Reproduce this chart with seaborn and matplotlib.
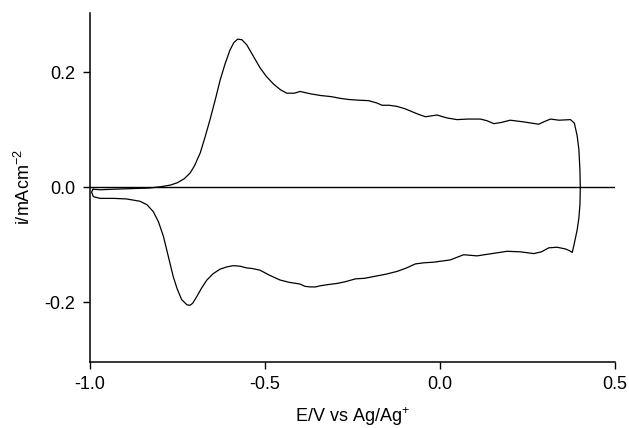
import numpy as np
import pandas as pd
import seaborn as sns
import matplotlib.pyplot as plt

sns.set_theme(style='ticks')
plt.rcParams['font.family'] = ['Liberation Sans', 'DejaVu Sans']
plt.rcParams['mathtext.default'] = 'regular'

# anodic sweep (-1.0 V -> 0.4 V)
e_fwd = [-0.99, -0.97, -0.93, -0.875, -0.83, -0.80, -0.77, -0.75, -0.73, -0.713,
         -0.70, -0.684, -0.67, -0.656, -0.64, -0.627, -0.613, -0.599, -0.588, -0.577,
         -0.565, -0.551, -0.53, -0.513, -0.495, -0.475, -0.455, -0.437, -0.415, -0.399,
         -0.37, -0.341, -0.31, -0.284, -0.26, -0.237, -0.203, -0.18, -0.165, -0.145,
         -0.122, -0.10, -0.084, -0.06, -0.041, -0.02, -0.008, 0.02, 0.049, 0.08,
         0.116, 0.135, 0.154, 0.175, 0.201, 0.24, 0.282, 0.30, 0.316, 0.34,
         0.373, 0.384, 0.392, 0.397, 0.400, 0.401]
i_fwd = [-0.003, -0.004, -0.003, -0.002, -0.001, 0.001, 0.004, 0.008, 0.015, 0.025,
         0.038, 0.060, 0.088, 0.118, 0.155, 0.187, 0.215, 0.239, 0.252, 0.258,
         0.257, 0.248, 0.226, 0.208, 0.193, 0.180, 0.170, 0.164, 0.164, 0.167,
         0.163, 0.160, 0.158, 0.155, 0.153, 0.152, 0.151, 0.147, 0.143, 0.143,
         0.141, 0.137, 0.133, 0.127, 0.123, 0.125, 0.126, 0.121, 0.118, 0.119,
         0.119, 0.116, 0.111, 0.113, 0.117, 0.114, 0.110, 0.115, 0.119, 0.117,
         0.118, 0.112, 0.090, 0.066, 0.030, 0.000]

# cathodic sweep (0.4 V -> -1.0 V)
e_rev = [0.400, 0.397, 0.392, 0.383, 0.378, 0.37, 0.359, 0.335, 0.311, 0.29,
         0.268, 0.23, 0.192, 0.15, 0.106, 0.068, 0.03, 0.005, -0.018, -0.045,
         -0.070, -0.095, -0.122, -0.155, -0.189, -0.215, -0.241, -0.27, -0.294, -0.32,
         -0.341, -0.355, -0.370, -0.385, -0.399, -0.43, -0.456, -0.485, -0.513, -0.535,
         -0.551, -0.57, -0.589, -0.607, -0.627, -0.647, -0.665, -0.68, -0.694, -0.705,
         -0.713, -0.722, -0.737, -0.75, -0.761, -0.775, -0.789, -0.803, -0.818, -0.836,
         -0.856, -0.894, -0.93, -0.970, -0.989, -0.994, -0.99]
i_rev = [-0.030, -0.053, -0.074, -0.100, -0.113, -0.110, -0.107, -0.104, -0.105, -0.112,
         -0.115, -0.112, -0.111, -0.115, -0.119, -0.117, -0.126, -0.128, -0.130, -0.131,
         -0.133, -0.140, -0.146, -0.151, -0.155, -0.158, -0.159, -0.164, -0.167, -0.169,
         -0.171, -0.173, -0.173, -0.172, -0.168, -0.165, -0.161, -0.153, -0.144, -0.141,
         -0.140, -0.137, -0.136, -0.138, -0.142, -0.150, -0.161, -0.175, -0.190, -0.201,
         -0.205, -0.204, -0.195, -0.176, -0.155, -0.120, -0.085, -0.060, -0.042, -0.030,
         -0.024, -0.020, -0.019, -0.019, -0.016, -0.008, -0.003]

cv = pd.DataFrame({'E': e_fwd + e_rev, 'i': i_fwd + i_rev})
cv['step'] = np.arange(len(cv))

fig = plt.figure(figsize=(6.29, 4.28), dpi=100)
ax = fig.add_axes([0.1423, 0.155, 0.8354, 0.814])

sns.lineplot(data=cv, x='E', y='i', sort=False, estimator=None,
             color='black', linewidth=0.9, ax=ax)
ax.axhline(0, color='black', linewidth=1.0)

ax.set_xlim(-1.0, 0.5)
ax.set_ylim(-0.303, 0.303)
ax.set_xticks([-1.0, -0.5, 0.0, 0.5])
ax.set_yticks([-0.2, 0.0, 0.2])
ax.set_xticklabels(['-1.0', '-0.5', '0.0', '0.5'])
ax.set_yticklabels(['-0.2', '0.0', '0.2'])
ax.tick_params(axis='both', labelsize=13, length=5, width=1, color='black',
               labelcolor='black', direction='out', pad=5)
sns.despine(ax=ax)
for s in ['left', 'bottom']:
    ax.spines[s].set_color('black')
    ax.spines[s].set_linewidth(1.1)

ax.set_xlabel('E/V vs Ag/Ag$^{+}$', fontsize=13, color='black', labelpad=9)
ax.set_ylabel('i/mAcm$^{-2}$', fontsize=13, color='black', labelpad=8)

fig.savefig('out.png', dpi=100, facecolor='white')
